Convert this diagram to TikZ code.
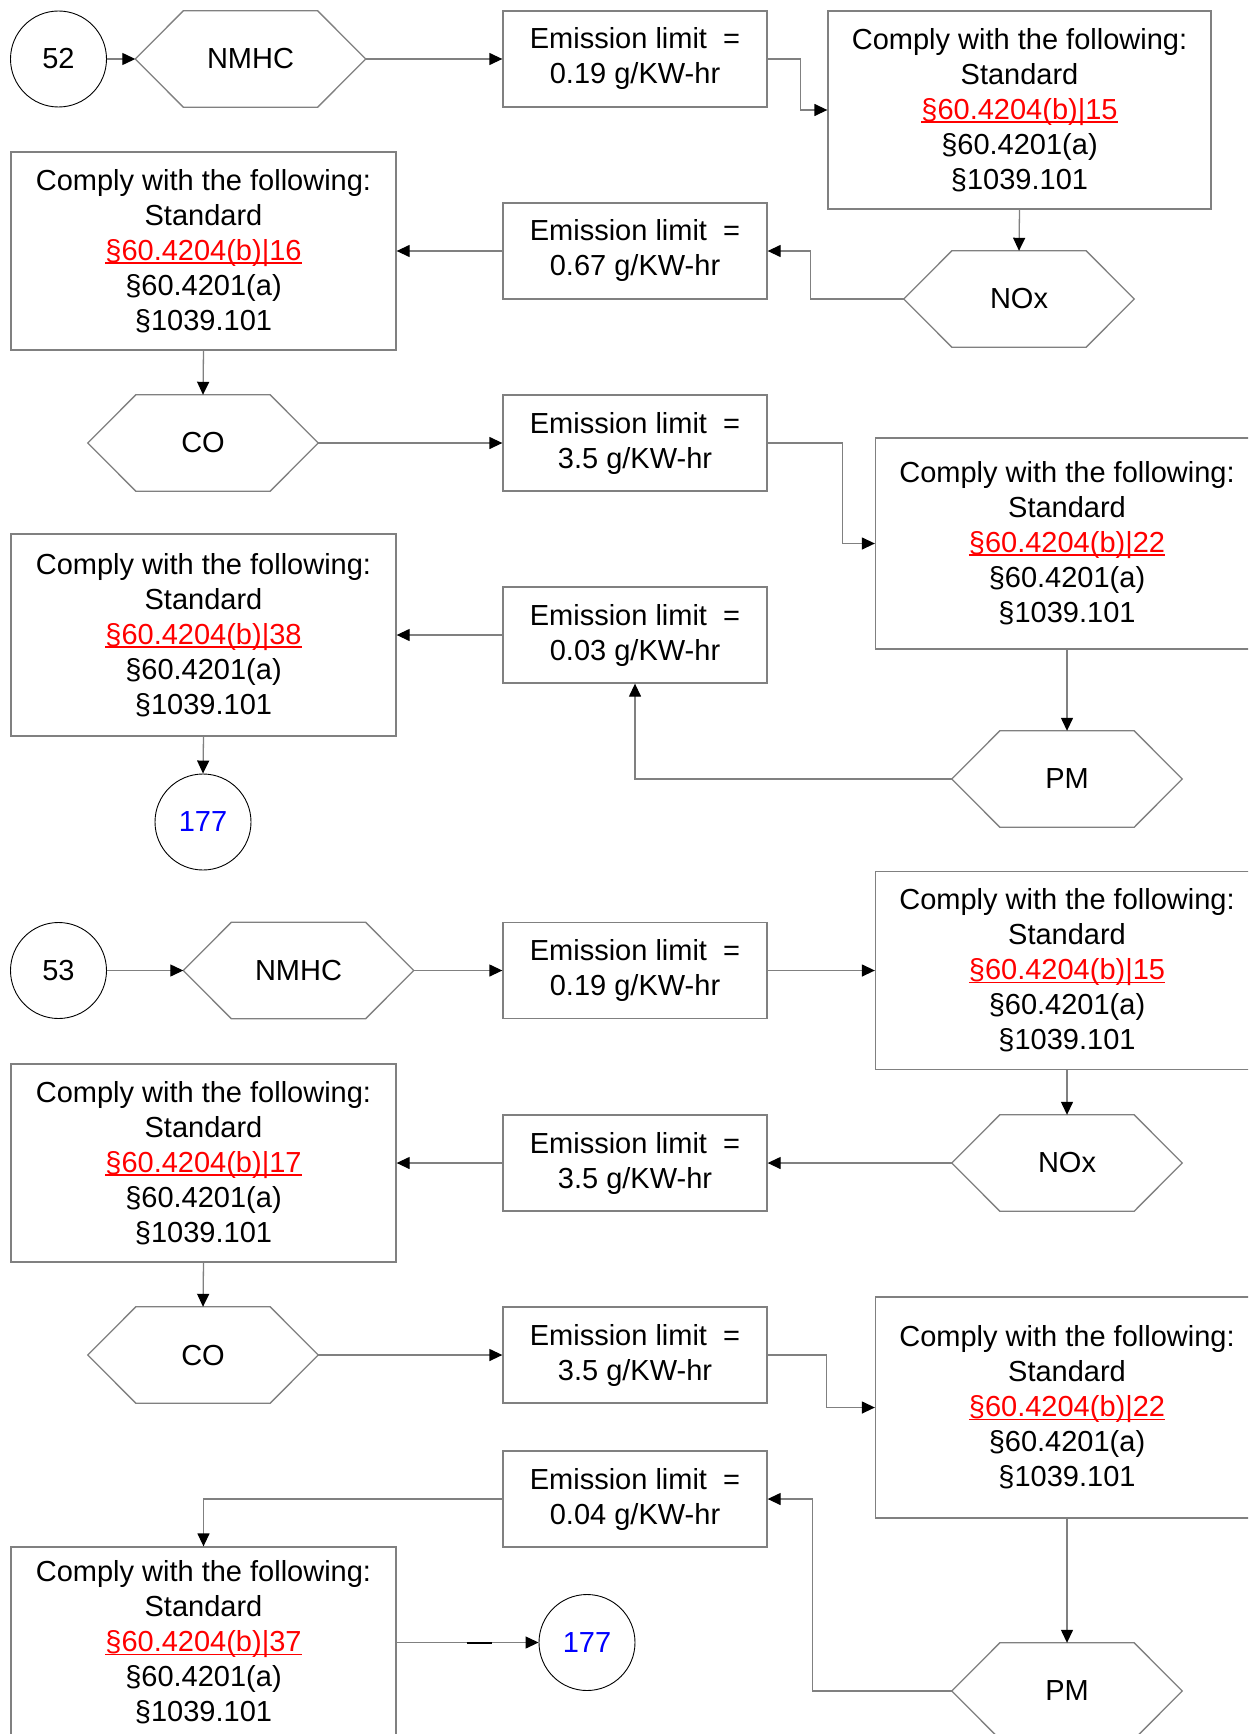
\documentclass[tikz,border=0pt]{standalone}
\usepackage{fontspec}
\setmainfont{Liberation Sans}
\usetikzlibrary{arrows.meta}
\definecolor{ln}{RGB}{128,128,128}
\definecolor{lk}{RGB}{255,0,0}
\definecolor{bl}{RGB}{0,0,255}
\newcommand\lnk[1]{\textcolor{lk}{\setbox0\hbox{#1}\rlap{\rule[-3.5pt]{\wd0}{1.8pt}}\box0}}
\newcommand\comply[1]{Comply with the following:\\Standard\\\lnk{§60.4204(b)|#1}\\§60.4201(a)\\§1039.101}
\newcommand\emis[1]{Emission limit\ \ =\\#1 g/KW-hr}
\newcommand\hexa[3]{\node[hexbox] (#1) at (#2) {#3};
  \draw[hexline] ([xshift=48pt]#1.north west) -- ([xshift=-48pt]#1.north east) -- (#1.east) -- ([xshift=-48pt]#1.south east) -- ([xshift=48pt]#1.south west) -- (#1.west) -- cycle;}
\tikzset{
  txt/.style={font=\fontsize{29}{35}\selectfont},
  box/.style={txt, draw=ln, line width=1.3pt, rectangle, align=center, inner sep=0pt},
  ebox/.style={box, minimum width=264pt, minimum height=96pt},
  sbox/.style={box, minimum width=384pt, minimum height=198pt},
  hexbox/.style={txt, rectangle, minimum width=230pt, minimum height=96pt, inner sep=0pt},
  hexline/.style={draw=ln, line width=1.3pt, line join=miter},
  circ/.style={txt, circle, draw=black, line width=0.9pt, minimum size=96pt, inner sep=0pt},
  conn/.style={draw=ln, line width=1.3pt, -{Triangle[length=13pt,width=12pt,color=black]}},
}
\begin{document}
\begin{tikzpicture}[x=1pt,y=-1pt]
\fill[white] (0,0) rectangle (1248,1734);
\useasboundingbox (0,0) rectangle (1248,1734);
\clip (0,0) rectangle (1248,1734);
% ---------- first chart ----------
\node[circ] (c52) at (58.5,59) {52};
\hexa{nmhc1}{250.5,59}{NMHC}
\node[ebox] (e1) at (635,59) {\emis{0.19}};
\node[sbox, minimum width=383pt] (s1) at (1019.5,110) {\comply{15}};
\hexa{nox1}{1019,299}{NOx}
\node[ebox] (e2) at (635,251) {\emis{0.67}};
\node[sbox, minimum width=385pt] (s2) at (203.5,251) {\comply{16}};
\hexa{co1}{203,443}{CO}
\node[ebox] (e3) at (635,443) {\emis{3.5}};
\node[sbox, minimum width=383pt, minimum height=211pt] (s3) at (1067,543.5) {\comply{22}};
\hexa{pm1}{1067,779}{PM}
\node[ebox] (e4) at (635,635) {\emis{0.03}};
\node[sbox, minimum width=385pt, minimum height=202pt] (s4) at (203.5,635) {\comply{38}};
\node[circ, text=bl] (c177a) at (203,822) {177};

\draw[conn] (c52.east) -- (nmhc1.west);
\draw[conn] (nmhc1.east) -- (e1.west);
\draw[conn] (e1.east) -- ++(33,0) |- (s1.west);
\draw[conn] (s1.south) -- (nox1.north);
\draw[conn] (nox1.west) -- ++(-93,0) |- (e2.east);
\draw[conn] (e2.west) -- (s2.east);
\draw[conn] (s2.south) -- (co1.north);
\draw[conn] (co1.east) -- (e3.west);
\draw[conn] (e3.east) -- ++(75,0) |- (s3.west);
\draw[conn] (s3.south) -- (pm1.north);
\draw[conn] (pm1.west) -| (e4.south);
\draw[conn] (e4.west) -- (s4.east);
\draw[conn] (s4.south) -- (c177a.north);

% ---------- second chart ----------
\node[circ] (c53) at (58.5,970.5) {53};
\hexa{nmhc2}{298.5,970.5}{NMHC}
\node[ebox] (e5) at (635,970.5) {\emis{0.19}};
\node[sbox, minimum width=383pt] (s5) at (1067,970.5) {\comply{15}};
\hexa{nox2}{1067,1163}{NOx}
\node[ebox] (e6) at (635,1163) {\emis{3.5}};
\node[sbox, minimum width=385pt] (s6) at (203.5,1163) {\comply{17}};
\hexa{co2}{203,1355}{CO}
\node[ebox] (e7) at (635,1355) {\emis{3.5}};
\node[sbox, minimum width=383pt, minimum height=221pt] (s7) at (1067,1407.5) {\comply{22}};
\hexa{pm2}{1067,1691}{PM}
\node[ebox] (e8) at (635,1499) {\emis{0.04}};
\node[sbox, minimum width=385pt, minimum height=191pt] (s8) at (203.5,1642.5) {\comply{37}};
\node[circ, text=bl] (c177b) at (587,1642.5) {177};

\draw[conn] (c53.east) -- (nmhc2.west);
\draw[conn] (nmhc2.east) -- (e5.west);
\draw[conn] (e5.east) -- (s5.west);
\draw[conn] (s5.south) -- (nox2.north);
\draw[conn] (nox2.west) -- (e6.east);
\draw[conn] (e6.west) -- (s6.east);
\draw[conn] (s6.south) -- (co2.north);
\draw[conn] (co2.east) -- (e7.west);
\draw[conn] (e7.east) -- ++(59,0) |- (s7.west);
\draw[conn] (s7.south) -- (pm2.north);
\draw[conn] (pm2.west) -- ++(-139,0) |- (e8.east);
\draw[conn] (e8.west) -| (s8.north);
\draw[conn] (s8.east) -- (c177b.west);
\draw[black, line width=2pt] ([xshift=70pt]s8.east) -- ([xshift=95pt]s8.east);
\end{tikzpicture}
\end{document}
